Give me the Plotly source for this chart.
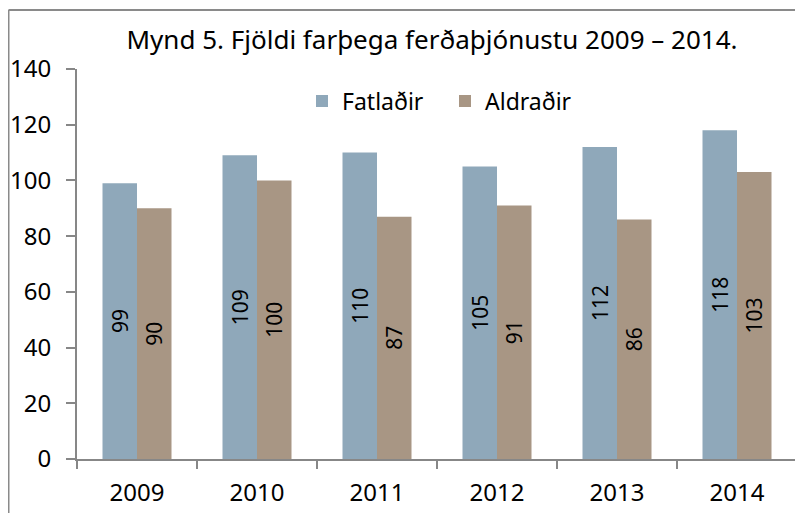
import plotly.graph_objects as go

years = ["2009", "2010", "2011", "2012", "2013", "2014"]
fatladir = [99, 109, 110, 105, 112, 118]
aldradir = [90, 100, 87, 91, 86, 103]
y_ticks = [0, 20, 40, 60, 80, 100, 120, 140]

FONT = "Noto Sans"
# page has an 8px body margin, so the figure is drawn 8px in from the top-left
W, H = 795, 505
L, R, T, B = 69, 6, 61, 54
pw, ph = W - L - R, H - T - B

fig = go.Figure()
fig.add_trace(go.Bar(
    name="Fatlaðir", x=years, y=fatladir,
    marker=dict(color="#8fa8ba", line=dict(width=0)),
    text=[str(v) for v in fatladir], textposition="inside",
    textangle=-90, insidetextanchor="middle",
    textfont=dict(family=FONT, size=21, color="black"),
))
fig.add_trace(go.Bar(
    name="Aldraðir", x=years, y=aldradir,
    marker=dict(color="#a89684", line=dict(width=0)),
    text=[str(v) for v in aldradir], textposition="inside",
    textangle=-90, insidetextanchor="middle",
    textfont=dict(family=FONT, size=21, color="black"),
))

axis_col = "#878787"
fig.update_layout(
    width=W, height=H,
    margin=dict(l=L, r=R, t=T, b=B, autoexpand=False),
    paper_bgcolor="white", plot_bgcolor="white",
    barmode="group", bargap=0.425, bargroupgap=0,
    font=dict(family=FONT, size=22, color="black"),
    title=dict(text="Mynd 5. Fjöldi farþega ferðaþjónustu 2009 – 2014.",
               x=(424 - L) / pw, xref="paper", xanchor="center",
               y=1 - 32 / H, yref="container", yanchor="middle",
               font=dict(family=FONT, size=26, color="black")),
    legend=dict(orientation="h", x=(437 - L) / pw, xanchor="center",
                y=(H - B - 93) / ph, yanchor="middle",
                font=dict(family=FONT, size=23, color="black"),
                bgcolor="rgba(0,0,0,0)", itemwidth=30, traceorder="normal",
                entrywidth=98, entrywidthmode="pixels"),
    showlegend=True,
)
fig.update_xaxes(
    type="category", showline=True, linecolor=axis_col, linewidth=2,
    ticks="outside", tickson="boundaries", ticklen=8, tickcolor=axis_col,
    tickwidth=2, showgrid=False, zeroline=False, ticklabelstandoff=11,
    tickfont=dict(family=FONT, size=24, color="black"),
)
fig.update_yaxes(
    range=[0, 140], tickvals=y_ticks, showline=True, linecolor=axis_col,
    linewidth=2, ticks="outside", ticklen=9, tickcolor=axis_col, tickwidth=2,
    showgrid=False, zeroline=False, ticklabelstandoff=10,
    tickfont=dict(family=FONT, size=24, color="black"),
)
# chart frame (left and top edges visible in the crop)
fx0 = (0.5 - L) / pw
fy1 = (H - B - 2) / ph
fig.add_shape(type="line", xref="paper", yref="paper", x0=fx0, x1=fx0,
              y0=-0.2, y1=fy1, line=dict(color="#8a8a8a", width=2))
fig.add_shape(type="line", xref="paper", yref="paper", x0=fx0, x1=1.05,
              y0=fy1, y1=fy1, line=dict(color="#8a8a8a", width=2))

fig.write_html("out.html")
